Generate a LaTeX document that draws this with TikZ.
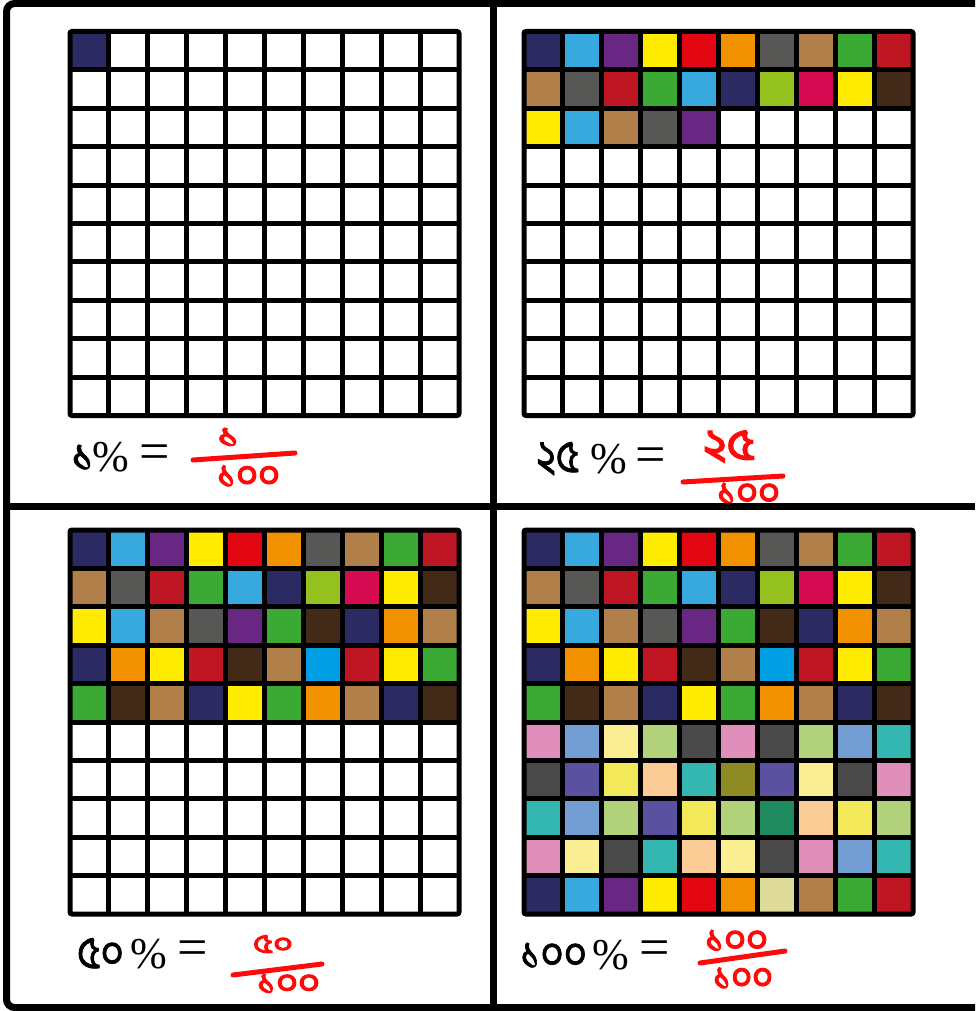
\documentclass[tikz,border=0pt]{standalone}
\usepackage{fontspec}
\usepackage{graphicx}
\setmainfont{Liberation Serif}
\newfontfamily\bnfont[Script=Bengali,FakeBold=1.5]{Hind Siliguri}
\newfontfamily\bnred[Script=Bengali,FakeBold=3]{Hind Siliguri}
\definecolor{Cna}{HTML}{2B2A62}
\definecolor{Csk}{HTML}{38A9DF}
\definecolor{Cpu}{HTML}{682783}
\definecolor{Cye}{HTML}{FFEC00}
\definecolor{Cre}{HTML}{E30613}
\definecolor{Cor}{HTML}{F39200}
\definecolor{Cgy}{HTML}{575756}
\definecolor{Cta}{HTML}{B17F4A}
\definecolor{Cgr}{HTML}{3AAA35}
\definecolor{Ccr}{HTML}{BE1622}
\definecolor{Cbr}{HTML}{432918}
\definecolor{Cli}{HTML}{95C11F}
\definecolor{Cma}{HTML}{D60B52}
\definecolor{Cbl}{HTML}{009FE3}
\definecolor{Cpk}{HTML}{E08FBA}
\definecolor{Ccf}{HTML}{729ED3}
\definecolor{Cpy}{HTML}{F9EE91}
\definecolor{Csg}{HTML}{B1D17B}
\definecolor{Cdg}{HTML}{4A4A4A}
\definecolor{Cind}{HTML}{5A52A0}
\definecolor{Cyt}{HTML}{F2E85A}
\definecolor{Cpe}{HTML}{FCCC97}
\definecolor{Cte}{HTML}{33B7B0}
\definecolor{Col}{HTML}{8E8A24}
\definecolor{Csf}{HTML}{1F8A5F}
\definecolor{Ckh}{HTML}{DFDB9A}
\definecolor{Cpen}{HTML}{FF0A0A}
\newcommand\cellrow[2]{\foreach \cc [count=\ii from 0] in {#2} {\fill[\cc] (\ii,#1) rectangle ++(1,1);}}
\newcommand\gridlines{%
  \foreach \k in {1,...,9}{\draw[gridline] (\k,0) -- (\k,10); \draw[gridline] (0,\k) -- (10,\k);}
  \draw[gridline, rounded corners=2pt] (0,0) rectangle (10,10);}
\newcommand\rowA{\cellrow{0}{Cna,Csk,Cpu,Cye,Cre,Cor,Cgy,Cta,Cgr,Ccr}}
\newcommand\rowB{\cellrow{1}{Cta,Cgy,Ccr,Cgr,Csk,Cna,Cli,Cma,Cye,Cbr}}
\newcommand\rowC{\cellrow{2}{Cye,Csk,Cta,Cgy,Cpu,Cgr,Cbr,Cna,Cor,Cta}}
\newcommand\rowD{\cellrow{3}{Cna,Cor,Cye,Ccr,Cbr,Cta,Cbl,Ccr,Cye,Cgr}}
\newcommand\rowE{\cellrow{4}{Cgr,Cbr,Cta,Cna,Cye,Cgr,Cor,Cta,Cna,Cbr}}
\newcommand\fit[3]{\resizebox*{#1pt}{#2pt}{#3}}
\newcommand\narrow[1]{\scalebox{0.88}[1]{#1}}
\tikzset{
  gridline/.style={line width=5pt, black},
  frameline/.style={line width=7pt, black},
  redline/.style={Cpen, line width=5pt, line cap=round},
  digit/.style={inner sep=0pt, anchor=base west, font=\fontsize{46}{50}\selectfont\bnfont},
  pct/.style={inner sep=0pt, anchor=base west, font=\fontsize{44}{48}\selectfont},
  eq/.style={inner sep=0pt, font=\fontsize{54}{58}\selectfont},
  pen/.style={inner sep=0pt, text=Cpen},
  gridbox/.style={x=38.9pt, y=-38.4pt}
}
\begin{document}
\begin{tikzpicture}[x=1pt, y=-1pt]
\useasboundingbox (0,0) rectangle (975,1011);
\fill[white] (0,0) rectangle (975,1011);
% grid 1
\begin{scope}[shift={(70,31.5)}, gridbox]
  \fill[Cna] (0,0) rectangle (1,1);
  \gridlines
\end{scope}
% grid 2
\begin{scope}[shift={(524,31.5)}, gridbox]
  \rowA \rowB
  \cellrow{2}{Cye,Csk,Cta,Cgy,Cpu}
  \gridlines
\end{scope}
% grid 3
\begin{scope}[shift={(70,530)}, gridbox]
  \rowA \rowB \rowC \rowD \rowE
  \gridlines
\end{scope}
% grid 4
\begin{scope}[shift={(524,530)}, gridbox]
  \rowA \rowB \rowC \rowD \rowE
  \cellrow{5}{Cpk,Ccf,Cpy,Csg,Cdg,Cpk,Cdg,Csg,Ccf,Cte}
  \cellrow{6}{Cdg,Cind,Cyt,Cpe,Cte,Col,Cind,Cpy,Cdg,Cpk}
  \cellrow{7}{Cte,Ccf,Csg,Cind,Cyt,Csg,Csf,Cpe,Cyt,Csg}
  \cellrow{8}{Cpk,Cpy,Cdg,Cte,Cpe,Cpy,Cdg,Cpk,Ccf,Cte}
  \cellrow{9}{Cna,Csk,Cpu,Cye,Cre,Cor,Ckh,Cta,Cgr,Ccr}
  \gridlines
\end{scope}
% labels, panel 1
\node[digit] (v1) at (71,471) {১};
\node[pct] (p1) at (92.5,471) {\%};
\node[eq] (e1) at (155,457) {=};
\node[pen] (n1) at (228.5,437.5) {\fit{23}{19}{\bnred ১}};
\draw[redline] (193,460) -- (295,453);
\node[pen] (d1) at (248.5,476.5) {\fit{63}{22}{\bnred ১০০}};
% panel 2
\node[digit] (v2) at (536,472) {\narrow{২৫}};
\node[pct] (p2) at (590.5,473) {\%};
\node[eq] (e2) at (650.5,460) {=};
\node[pen] (n2) at (729,446.5) {\fit{52}{32}{\bnred ২৫}};
\draw[redline] (683,482) -- (783,476);
\node[pen] (d2) at (748.5,494) {\fit{63}{22}{\bnred ১০০}};
% panel 3
\node[digit] (v3) at (77,968) {\narrow{৫০}};
\node[pct] (p3) at (130.5,968) {\%};
\node[eq] (e3) at (193,953) {=};
\node[pen] (n3) at (273,944) {\fit{40}{18}{\bnred ৫০}};
\draw[redline] (233,975) -- (322,964);
\node[pen] (d3) at (288.5,984) {\fit{63}{20}{\bnred ১০০}};
% panel 4
\node[digit] (v4) at (520,969) {\narrow{১০০}};
\node[pct] (p4) at (592.5,969) {\%};
\node[eq] (e4) at (655,953) {=};
\node[pen] (n4) at (736.5,941) {\fit{63}{22}{\bnred ১০০}};
\draw[redline] (700,963) -- (785,951);
\node[pen] (d4) at (743,978.5) {\fit{60}{22}{\bnred ১০০}};
% frame
\draw[frameline, rounded corners=8pt] (975,3.5) -- (6.5,3.5) -- (6.5,1007.5) -- (975,1007.5);
\draw[frameline] (493,0) -- (493,1011);
\draw[frameline] (6.5,506.5) -- (975,506.5);
\end{tikzpicture}
\end{document}
